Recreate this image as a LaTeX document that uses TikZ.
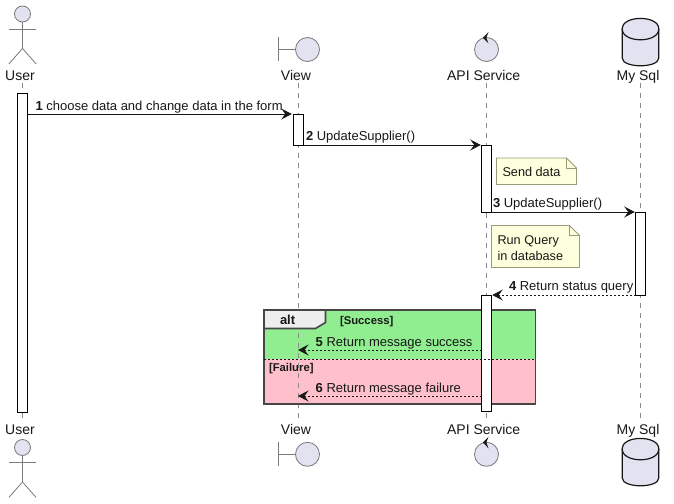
\documentclass[tikz,border=0pt]{standalone}
\usepackage{fontspec}
\setmainfont{Liberation Sans}
\usetikzlibrary{arrows.meta}
\definecolor{partfill}{HTML}{E2E2F0}
\definecolor{partline}{HTML}{7A7A7A}
\definecolor{notefill}{HTML}{FEFFDD}
\definecolor{noteline}{HTML}{9A9A7A}
\definecolor{tabfill}{HTML}{EEEEEE}
\definecolor{okgreen}{HTML}{90EE90}
\definecolor{badpink}{HTML}{FFC0CB}
\definecolor{ink}{HTML}{181818}
\definecolor{life}{HTML}{8A8A8A}
\tikzset{
  every node/.style={inner sep=0pt,outer sep=0pt,text=ink},
  msgtext/.style={anchor=base west,font=\fontsize{13}{15}\selectfont},
  nametext/.style={anchor=base,font=\fontsize{14}{16}\selectfont},
  notetext/.style={anchor=base west,font=\fontsize{12.7}{15}\selectfont},
  guardtext/.style={anchor=base west,font=\fontsize{11.3}{13}\selectfont\bfseries},
  alttext/.style={anchor=base west,font=\fontsize{13}{15}\selectfont\bfseries},
  lifeline/.style={draw=life,line width=0.9pt,dash pattern=on 5pt off 5pt},
  barbox/.style={draw=black,fill=white,line width=1pt,minimum width=9.5pt},
  glyph/.style={draw=partline,fill=partfill,line width=0.8pt},
  stick/.style={draw=partline,line width=0.8pt},
  notebox/.style={draw=noteline,fill=notefill,line width=0.8pt},
  msg/.style={draw=ink,line width=1pt,-{Stealth[length=10.5pt,width=11pt,inset=4pt]}},
  reply/.style={msg,dash pattern=on 2pt off 2pt},
  frameline/.style={draw=ink!80!white,line width=1.6pt},
  pics/actorglyph/.style={code={
    \draw[glyph] (0,0) circle[radius=8pt];
    \draw[stick] (-13.5,15.3) -- (13.5,15.3);
    \draw[stick] (0,8) -- (0,34.5) (-13.5,49.8) -- (0,34.5) -- (13.5,49.8);
  }},
  pics/boundaryglyph/.style={code={
    \draw[stick] (-29,-12) -- (-29,12) (-29,0) -- (-12,0);
    \draw[glyph] (0,0) circle[radius=12pt];
  }},
  pics/controlglyph/.style={code={
    \draw[glyph] (0,0) circle[radius=12pt];
    \fill[ink] (-3.6,-11.8) -- (2,-17.4) -- (-0.2,-11.8) -- (2,-6) -- cycle;
  }},
  pics/dbglyph/.style={code={
    \draw[glyph,draw=ink,line width=1.2pt] (-18.3,-12)
      .. controls (-18.3,-26) and (18.3,-26) .. (18.3,-12) -- (18.3,17)
      .. controls (18.3,27.5) and (-18.3,27.5) .. (-18.3,17) -- cycle;
    \draw[draw=ink,line width=1.2pt] (-18.3,-12)
      .. controls (-18.3,2.5) and (18.3,2.5) .. (18.3,-12);
  }},
}
\begin{document}
\begin{tikzpicture}[x=1pt,y=-1pt]
\useasboundingbox (0,0) rectangle (674,503);
\fill[white] (0,0) rectangle (674,503);

% lifeline end points
\coordinate (uT) at (22.5,83); \coordinate (uB) at (22.5,423);
\coordinate (vT) at (298,83);  \coordinate (vB) at (298,423);
\coordinate (aT) at (486.5,83);\coordinate (aB) at (486.5,423);
\coordinate (mT) at (640.5,83);\coordinate (mB) at (640.5,423);

% alt frame background
\fill[okgreen] (264,310) rectangle (535.5,359);
\fill[badpink] (264,359) rectangle (535.5,404);

\draw[lifeline] (uT) -- (uB);
\draw[lifeline] (vT) -- (vB);
\draw[lifeline] (aT) -- (aB);
\draw[lifeline] (mT) -- (mB);

% frame
\draw[frameline] (264,310) rectangle (535.5,404);
\draw[frameline,fill=tabfill] (264,310) -- (325.5,310) -- (325.5,322.5) -- (315.5,328.5) -- (264,328.5) -- cycle;
\node[alttext] (altlabel) at (280,324) {alt};
\node[guardtext] (g1) at (340,324) {[Success]};
\node[guardtext] (g2) at (269,371) {[Failure]};

% activation bars
\node[barbox,minimum height=319pt] (barU) at (22.5,252.5) {};
\node[barbox,minimum height=31pt]  (barV) at (298.5,129.5) {};
\node[barbox,minimum height=67pt]  (barA1) at (486.5,178.5) {};
\node[barbox,minimum height=83pt]  (barM) at (640.5,253.5) {};
\node[barbox,minimum height=116pt] (barA2) at (486.5,353) {};

\draw[ink,line width=0.8pt,dash pattern=on 2pt off 2pt] (264,359) -- (535.5,359);

% participants top
\pic at (22.5,14) {actorglyph};
\pic at (307.5,49.5) {boundaryglyph};
\pic at (486.5,49.5) {controlglyph};
\pic at (640.5,40.9) {dbglyph};
\node[nametext] (nU) at (20,80) {User};
\node[nametext] (nV) at (296,80) {View};
\node[nametext] (nA) at (483.7,80) {API Service};
\node[nametext] (nM) at (638,80) {My Sql};

% participants bottom
\node[nametext] (nU2) at (20,434.5) {User};
\node[nametext] (nV2) at (296,434.5) {View};
\node[nametext] (nA2) at (483.7,434.5) {API Service};
\node[nametext] (nM2) at (638,434.5) {My Sql};
\pic at (22.5,447.5) {actorglyph};
\pic at (307.5,454.3) {boundaryglyph};
\pic at (486.5,454.3) {controlglyph};
\pic at (640.5,460.9) {dbglyph};

% notes
\draw[notebox] (496.5,158) -- (566.5,158) -- (576.5,168) -- (576.5,184.5) -- (496.5,184.5) -- cycle;
\draw[noteline,line width=0.8pt] (566.5,158) -- (566.5,168) -- (576.5,168);
\node[notetext] (note1) at (502.5,176.7) {Send data};
\draw[notebox] (491.5,225.5) -- (569.5,225.5) -- (579.5,235.5) -- (579.5,267.5) -- (491.5,267.5) -- cycle;
\draw[noteline,line width=0.8pt] (569.5,225.5) -- (569.5,235.5) -- (579.5,235.5);
\node[notetext] (note2a) at (497.5,244) {Run Query};
\node[notetext] (note2b) at (497.5,260) {in database};

% messages
\draw[msg,shorten >=2pt] (barU.east |- 0,114) -- (barV.west |- 0,114);
\draw[msg,shorten >=1pt] (barV.east |- 0,145) -- (barA1.west |- 0,145);
\draw[msg,shorten >=1pt] (barA1.east |- 0,212) -- (barM.west |- 0,212);
\draw[reply,shorten >=1pt] (barM.west |- 0,295) -- (barA2.east |- 0,295);
\draw[reply] (barA2.west |- 0,350) -- (vT |- 0,350);
\draw[reply] (barA2.west |- 0,396) -- (vT |- 0,396);

\node[msgtext] (m1) at (35.5,110) {\textbf{1} choose data and change data in the form};
\node[msgtext] (m2) at (306,140) {\textbf{2} UpdateSupplier()};
\node[msgtext] (m3) at (493,207) {\textbf{3} UpdateSupplier()};
\node[msgtext] (m4) at (509,290) {\textbf{4} Return status query};
\node[msgtext] (m5) at (315.7,346) {\textbf{5} Return message success};
\node[msgtext] (m6) at (315.7,392) {\textbf{6} Return message failure};
\end{tikzpicture}
\end{document}
